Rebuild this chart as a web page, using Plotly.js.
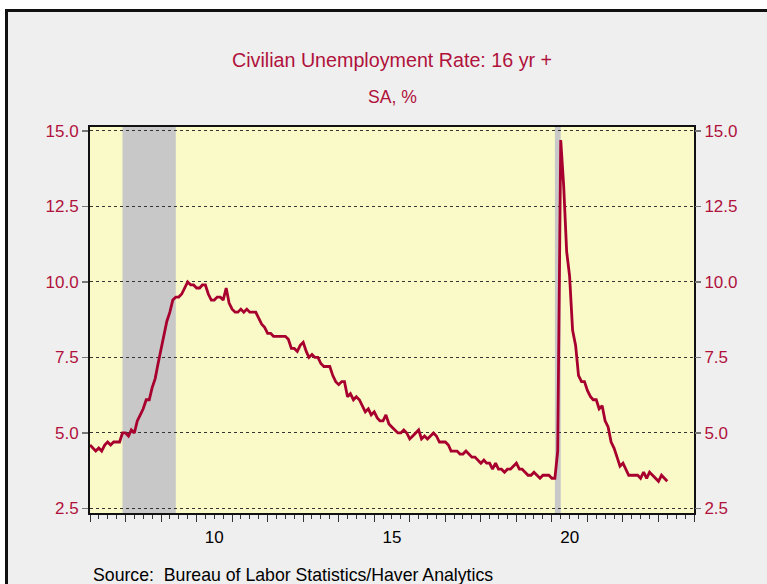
<!DOCTYPE html>
<html>
<head>
<meta charset="utf-8">
<script src="https://cdn.plot.ly/plotly-3.0.1.min.js"></script>
<style>
  html, body { margin: 0; padding: 0; background: #ffffff; }
  #wrap { position: relative; width: 767px; height: 584px; overflow: hidden; }
  #chart { position: absolute; left: 0; top: 0; width: 767px; height: 584px; }
  .mask { position: absolute; pointer-events: none; }
</style>
</head>
<body>
<div id="wrap">
  <div id="chart"></div>
  <div class="mask" style="left:0;top:0;width:767px;height:9px;background:#fff;"></div>
  <div class="mask" style="left:0;top:0;width:5px;height:584px;background:#fff;"></div>
  <div class="mask" style="left:5px;top:9px;width:762px;height:3px;background:#111;"></div>
  <div class="mask" style="left:5px;top:9px;width:3px;height:575px;background:#111;"></div>
</div>
<script>
// Monthly civilian unemployment rate, 16 yr +, SA, %  (Jan 2007 - Apr 2023)
const startYear = 2007;
const rate = [
  // 2007
  4.6, 4.5, 4.4, 4.5, 4.4, 4.6, 4.7, 4.6, 4.7, 4.7, 4.7, 5.0,
  // 2008
  5.0, 4.9, 5.1, 5.0, 5.4, 5.6, 5.8, 6.1, 6.1, 6.5, 6.8, 7.3,
  // 2009
  7.8, 8.3, 8.7, 9.0, 9.4, 9.5, 9.5, 9.6, 9.8, 10.0, 9.9, 9.9,
  // 2010
  9.8, 9.8, 9.9, 9.9, 9.6, 9.4, 9.4, 9.5, 9.5, 9.4, 9.8, 9.3,
  // 2011
  9.1, 9.0, 9.0, 9.1, 9.0, 9.1, 9.0, 9.0, 9.0, 8.8, 8.6, 8.5,
  // 2012
  8.3, 8.3, 8.2, 8.2, 8.2, 8.2, 8.2, 8.1, 7.8, 7.8, 7.7, 7.9,
  // 2013
  8.0, 7.7, 7.5, 7.6, 7.5, 7.5, 7.3, 7.2, 7.2, 7.2, 6.9, 6.7,
  // 2014
  6.6, 6.7, 6.7, 6.2, 6.3, 6.1, 6.2, 6.1, 5.9, 5.7, 5.8, 5.6,
  // 2015
  5.7, 5.5, 5.4, 5.4, 5.6, 5.3, 5.2, 5.1, 5.0, 5.0, 5.1, 5.0,
  // 2016
  4.8, 4.9, 5.0, 5.1, 4.8, 4.9, 4.8, 4.9, 5.0, 4.9, 4.7, 4.7,
  // 2017
  4.7, 4.6, 4.4, 4.4, 4.4, 4.3, 4.3, 4.4, 4.3, 4.2, 4.2, 4.1,
  // 2018
  4.0, 4.1, 4.0, 4.0, 3.8, 4.0, 3.8, 3.8, 3.7, 3.8, 3.8, 3.9,
  // 2019
  4.0, 3.8, 3.8, 3.7, 3.6, 3.6, 3.7, 3.6, 3.5, 3.6, 3.6, 3.6,
  // 2020
  3.5, 3.5, 4.4, 14.7, 13.2, 11.0, 10.2, 8.4, 7.9, 6.9, 6.7, 6.7,
  // 2021
  6.4, 6.2, 6.1, 6.1, 5.8, 5.9, 5.4, 5.2, 4.7, 4.5, 4.2, 3.9,
  // 2022
  4.0, 3.8, 3.6, 3.6, 3.6, 3.6, 3.5, 3.7, 3.5, 3.7, 3.6, 3.5,
  // 2023
  3.4, 3.6, 3.5, 3.4
];
const recessionStarts = ['2007-12-01', '2020-02-01'];
const recessionEnds   = ['2009-06-01', '2020-04-01'];
const yearTickLabels = ['10', '15', '20'];
const yearTickPositions = ['2010-07-02', '2015-07-02', '2020-07-02'];

const dates = rate.map((v, i) => {
  const y = startYear + Math.floor(i / 12);
  const m = (i % 12) + 1;
  return y + '-' + String(m).padStart(2, '0') + '-01';
});

const red = '#a8002e';
const font = 'Liberation Sans, Arial, sans-serif';

const traces = [
  {
    x: dates, y: rate, type: 'scatter', mode: 'lines',
    line: { color: red, width: 2.8 },
    xaxis: 'x', yaxis: 'y', hoverinfo: 'skip'
  },
  {
    x: dates, y: rate, type: 'scatter', mode: 'lines',
    line: { color: 'rgba(0,0,0,0)', width: 0 },
    xaxis: 'x2', yaxis: 'y2', hoverinfo: 'skip', showlegend: false
  }
];

const shapes = recessionStarts.map((s, i) => ({
  type: 'rect', xref: 'x', yref: 'paper', x0: s, x1: recessionEnds[i], y0: 0, y1: 1,
  fillcolor: '#c8c8c8', line: { width: 0 }, layer: 'below'
}));

const xRange = ['2007-01-01', '2024-01-01'];
const yRange = [2.35, 15.13];

const layout = {
  width: 767, height: 584,
  margin: { l: 90, r: 73, t: 127, b: 71 },
  paper_bgcolor: '#efefef',
  plot_bgcolor: '#fafac8',
  showlegend: false,
  font: { family: font, color: '#000', size: 15 },
  title: {
    text: 'Civilian Unemployment Rate: 16 yr +',
    x: 0.5, xanchor: 'center', xref: 'paper', y: 1 - 60 / 584, yanchor: 'middle',
    font: { family: font, size: 19.7, color: '#b0123c' }
  },
  xaxis: {
    type: 'date', range: xRange,
    tickmode: 'linear', tick0: '2007-01-01', dtick: 'M12',
    ticks: 'outside', ticklen: 7, tickwidth: 1, tickcolor: '#333',
    showticklabels: false, showgrid: false, zeroline: false,
    showline: true, linecolor: '#111', linewidth: 2, mirror: true,
    minor: { tick0: '2007-01-01', dtick: 'M3', ticks: 'outside', ticklen: 4, tickwidth: 1, tickcolor: '#333', showgrid: false }
  },
  xaxis2: {
    type: 'date', range: xRange, overlaying: 'x', side: 'bottom', anchor: 'y',
    tickmode: 'array', tickvals: yearTickPositions, ticktext: yearTickLabels,
    ticks: 'outside', ticklen: 9, tickcolor: 'rgba(0,0,0,0)',
    showgrid: false, zeroline: false, showline: false,
    tickfont: { family: font, size: 17, color: '#000' }
  },
  yaxis: {
    range: yRange, tickmode: 'linear', tick0: 2.5, dtick: 2.5, tickformat: '.1f',
    ticks: 'outside', ticklen: 6, tickwidth: 1.5, tickcolor: '#777',
    showgrid: true, gridcolor: '#333', griddash: 'dot', gridwidth: 1,
    zeroline: false, showline: true, linecolor: '#111', linewidth: 2, mirror: true,
    tickfont: { family: font, size: 17, color: '#b0123c' }
  },
  yaxis2: {
    range: yRange, overlaying: 'y', side: 'right', anchor: 'x',
    tickmode: 'linear', tick0: 2.5, dtick: 2.5, tickformat: '.1f',
    ticks: 'outside', ticklen: 6, tickwidth: 1.5, tickcolor: '#777',
    showgrid: false, zeroline: false, showline: false,
    tickfont: { family: font, size: 17, color: '#b0123c' }
  },
  shapes: shapes,
  annotations: [
    {
      text: 'SA, %',
      xref: 'paper', yref: 'paper', x: 0.5, y: (513 - 97) / 386,
      xanchor: 'center', yanchor: 'middle', showarrow: false,
      font: { family: font, size: 17.6, color: '#b0123c' }
    },
    {
      text: 'Source:  Bureau of Labor Statistics/Haver Analytics',
      xref: 'paper', yref: 'paper', x: (91 - 90) / 604, y: -(575 - 513) / 386,
      xanchor: 'left', yanchor: 'middle', showarrow: false,
      font: { family: font, size: 17.7, color: '#000' }
    }
  ]
};

Plotly.newPlot('chart', traces, layout, { staticPlot: true });
</script>
</body>
</html>
